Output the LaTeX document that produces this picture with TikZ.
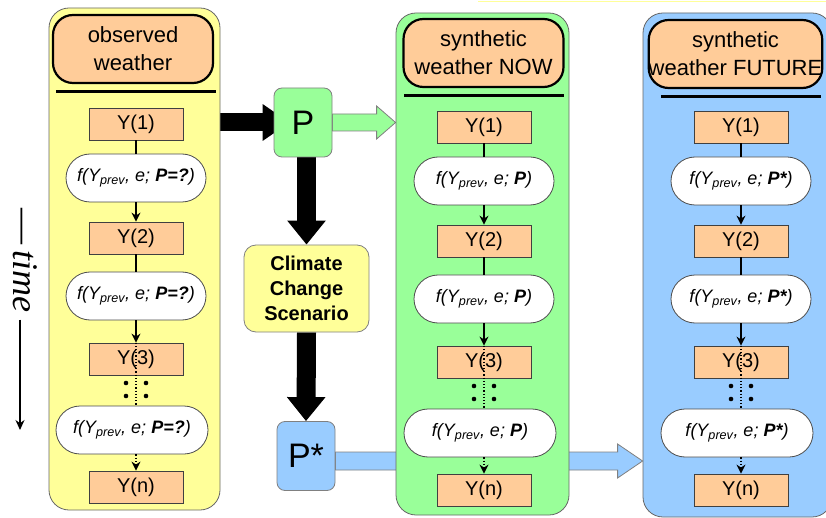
\documentclass[tikz,border=0pt]{standalone}
\usepackage{fontspec}
\setmainfont{Liberation Sans}
\newfontfamily\timefont{Liberation Serif}
\usetikzlibrary{arrows.meta, calc, backgrounds}
\definecolor{pale-yellow}{HTML}{FFFF99}
\definecolor{pale-green}{HTML}{99FF99}
\definecolor{sky-blue}{HTML}{99CCFF}
\definecolor{peach}{HTML}{FFCC99}

\tikzset{
  lane/.style={draw=gray!80!black, line width=0.8pt, rounded corners=20pt},
  header/.style={draw, line width=2.2pt, fill=peach, rounded corners=20pt, inner xsep=0pt,
    minimum width=160pt, minimum height=68pt, align=center, font=\fontsize{22}{28}\selectfont},
  ybox/.style={draw=black!75, line width=0.8pt, fill=peach, minimum width=94pt, minimum height=32pt,
    font=\fontsize{20}{24}\selectfont},
  fbox/.style={draw=black!70, line width=0.8pt, fill=white, rounded corners=24pt, minimum width=140pt,
    minimum height=48pt, font=\fontsize{18}{22}\selectfont\itshape},
  pbox/.style={draw=gray, line width=0.8pt, rounded corners=8pt, minimum width=58pt, minimum height=69pt,
    font=\fontsize{34}{34}\selectfont},
  link/.style={line width=1.2pt},
  follow/.style={link, -{Stealth[length=9pt, width=9pt]}},
  rule/.style={line width=3pt},
  heavy/.style={line width=19pt, -{Triangle[length=24pt, width=37pt]}}
}

\begin{document}
\begin{tikzpicture}[x=1pt, y=-1pt]
  \useasboundingbox (0,0) rectangle (826,518);
  \draw[pale-yellow, line width=1pt] (478,2) -- (826,2);

  % the three weather lanes
  \node[lane, fill=pale-yellow, minimum width=171pt, minimum height=502pt] (observed) at (134.5,259) {};
  \node[lane, fill=pale-green, minimum width=173pt, minimum height=502pt] (now) at (482.5,264) {};
  \node[lane, fill=sky-blue, minimum width=189pt, minimum height=504pt] (future) at (737.5,265) {};

  \node[header] (obs-head) at (133,49) {observed\\weather};
  \node[header] (now-head) at (483.5,53) {synthetic\\weather NOW};
  \node[header] (fut-head) at (735.5,54) {synthetic\\weather FUTURE};

  % chain of the generator in every lane
  \foreach \col/\cx/\dy/\prm in {obs/136/-3/{P=?}, now/484/0/P, fut/741/0/{P*}} {
    \node[ybox] (\col-1) at (\cx,{127+(\dy)}) {Y(1)};
    \node[fbox] (\col-f1) at (\cx,{181+(\dy)}) {f(Y\textsubscript{prev}, e; \textbf{\prm})};
    \node[ybox] (\col-2) at (\cx,{241+(\dy)}) {Y(2)};
    \node[fbox] (\col-f2) at (\cx,{299+(\dy)}) {f(Y\textsubscript{prev}, e; \textbf{\prm})};
    \node[ybox] (\col-3) at (\cx,{362+(\dy)}) {Y(3)};
    \node[fbox, minimum width=152pt] (\col-f3) at ({\cx-4},{433+(\dy)}) {f(Y\textsubscript{prev}, e; \textbf{\prm})};
    \node[ybox] (\col-n) at (\cx,{490+(\dy)}) {Y(n)};
    \draw[rule] ($(\col-head.south -| \col-1)+(-80,7)$) -- ++(160,0);
    \draw[link] (\col-1) -- (\col-f1);
    \draw[follow] (\col-f1) -- (\col-2);
    \draw[link] (\col-2) -- (\col-f2);
    \draw[follow] (\col-f2) -- (\col-3);
    \draw[link, dotted] (\col-3.north) -- (\col-3.north |- \col-f3.north);
    \draw[follow, dotted] (\col-f3.south -| \col-n) -- (\col-n.north);
    \foreach \u in {-10,10}
      \foreach \v in {386,399}
        \fill (\cx+\u,{\v+(\dy)}) circle (2.3pt);
  }

  % parameters
  \node[pbox, fill=pale-green] (P) at (303,122.5) {P};
  \node[draw=gray, line width=0.8pt, fill=pale-yellow, rounded corners=12pt, minimum width=125pt,
    minimum height=87pt, align=center, font=\fontsize{20}{25}\selectfont\bfseries]
    (climate) at (306.5,288.5) {Climate\\Change\\Scenario};
  \node[pbox, fill=sky-blue] (pstar) at (306,456) {P*};

  \begin{scope}[on background layer]
    \draw[heavy, line width=18pt, -{Triangle[length=27pt, width=35pt]}] (observed.east |- P.west) -- ($(P.west)+(16,0)$);
    \draw[heavy] (P.south -| climate.north) -- (climate.north);
    \draw[heavy] (climate.south) -- (pstar.north);
    \draw[fill=pale-green, draw=gray, line width=0.8pt] ($(P.east)+(0,-8.5)$) -- ($(now.west |- P.east)+(-19,-8.5)$)
      -- ++(0,-8) -- (now.west |- P.east) -- ($(now.west |- P.east)+(-19,16.5)$) -- ++(0,-8)
      -- ($(P.east)+(0,8.5)$) -- cycle;
    \coordinate (pb) at ($(pstar.east)+(0,5)$);
    \draw[fill=sky-blue, draw=gray, line width=0.8pt] ($(pb)+(0,-9)$) -- ($(future.west |- pb)+(-25,-9)$)
      -- ++(0,-8) -- (future.west |- pb) -- ($(future.west |- pb)+(-25,17)$) -- ++(0,-8)
      -- ($(pb)+(0,9)$) -- cycle;
  \end{scope}

  % time axis
  \node[rotate=-90, inner sep=0pt, font=\timefont\fontsize{36}{36}\selectfont] (time) at (25,260.5) {\textemdash\,\textit{time}};
  \coordinate (later) at (20,430);
  \draw[link, -{Stealth[length=10pt, width=9pt]}] ($(later |- time.east)+(0,7)$) -- (later);
\end{tikzpicture}
\end{document}
